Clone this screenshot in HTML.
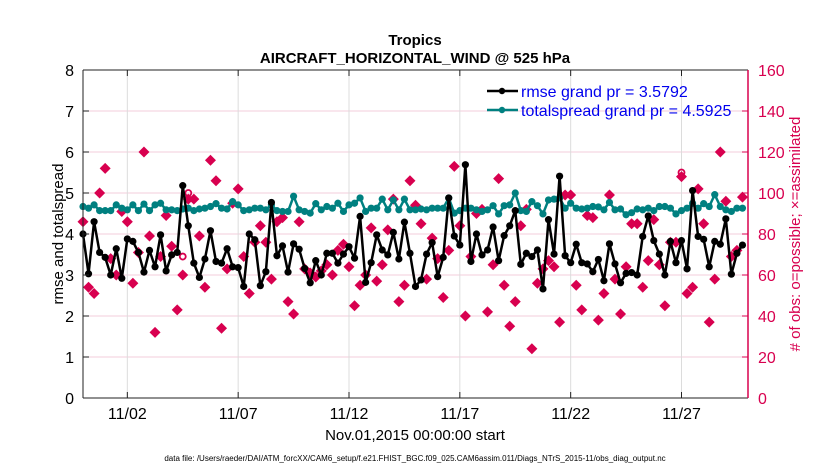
<!DOCTYPE html>
<html><head><meta charset="utf-8"><style>
body{margin:0;background:#fff;}
svg{display:block;font-family:"Liberation Sans",Arial,sans-serif;}
</style></head><body>
<svg id="chart" width="830" height="470" viewBox="0 0 830 470">
<g id="grid"></g>
<g id="marks"></g>
<g id="axes"></g>
<text x="415" y="45" text-anchor="middle" font-size="15" font-weight="bold">Tropics</text>
<text x="415" y="63" text-anchor="middle" font-size="15" font-weight="bold">AIRCRAFT_HORIZONTAL_WIND @ 525 hPa</text>
<text transform="translate(63,234) rotate(-90)" text-anchor="middle" font-size="15">rmse and totalspread</text>
<text transform="translate(800,234) rotate(-90)" text-anchor="middle" font-size="15" fill="#d8004f"># of obs: o=possible; ×=assimilated</text>
<text x="415" y="440" text-anchor="middle" font-size="15">Nov.01,2015 00:00:00 start</text>
<text x="415" y="461" text-anchor="middle" font-size="8">data file: /Users/raeder/DAI/ATM_forcXX/CAM6_setup/f.e21.FHIST_BGC.f09_025.CAM6assim.011/Diags_NTrS_2015-11/obs_diag_output.nc</text>
<g>
<line x1="487" y1="91" x2="518" y2="91" stroke="#000" stroke-width="2.5"/>
<circle cx="502" cy="91" r="3.2" fill="#000"/>
<text x="521" y="97" font-size="16" fill="#0000ee">rmse grand pr = 3.5792</text>
<line x1="487" y1="110" x2="518" y2="110" stroke="#008080" stroke-width="2.5"/>
<circle cx="502" cy="110" r="3.2" fill="#008080"/>
<text x="521" y="116" font-size="16" fill="#0000ee">totalspread grand pr = 4.5925</text>
</g>
</svg>
<script>
const rmse=[4.0,3.03,4.3,3.55,3.43,3.0,3.64,2.92,3.88,3.82,3.55,3.07,3.6,3.2,3.98,3.1,3.49,3.55,5.18,4.2,3.29,2.94,3.39,4.08,3.33,3.29,3.64,3.2,3.18,2.72,
4.0,3.86,2.74,3.08,4.77,3.47,3.71,3.07,3.76,3.63,3.16,2.81,3.35,3.0,3.53,3.53,3.29,3.51,3.69,3.41,4.43,2.82,3.3,3.98,3.61,3.49,4.04,3.39,4.29,3.53,
2.72,2.88,3.51,3.79,2.96,3.43,4.88,3.95,3.73,5.69,3.33,4.0,3.49,3.61,4.17,3.35,3.96,4.2,4.57,3.26,3.53,3.45,3.61,2.66,4.35,3.51,5.41,3.47,3.3,3.75,
3.3,3.27,3.08,3.38,2.86,3.76,3.27,2.81,3.04,3.06,3.0,3.94,4.44,3.84,3.51,3.0,3.82,3.3,3.84,3.15,5.06,3.94,3.87,3.2,3.82,3.75,4.37,3.02,3.53,3.73];
const spread=[4.67,4.63,4.71,4.57,4.57,4.57,4.71,4.63,4.59,4.71,4.57,4.73,4.57,4.71,4.75,4.59,4.59,4.57,4.61,4.63,4.57,4.61,4.63,4.67,4.74,4.63,4.61,4.79,4.71,4.57,
4.59,4.63,4.63,4.59,4.71,4.57,4.55,4.55,4.92,4.59,4.55,4.51,4.74,4.59,4.67,4.63,4.75,4.55,4.71,4.75,4.88,4.55,4.63,4.63,4.85,4.59,4.83,4.59,4.85,4.59,
4.59,4.61,4.59,4.63,4.63,4.63,4.88,4.51,4.57,4.63,4.63,4.59,4.55,4.59,4.69,4.49,4.69,4.71,5.0,4.57,4.55,4.79,4.69,4.49,4.83,4.85,4.88,4.63,4.75,4.63,
4.61,4.63,4.67,4.66,4.59,4.77,4.59,4.61,4.47,4.52,4.61,4.59,4.63,4.57,4.67,4.67,4.63,4.49,4.57,4.63,4.75,4.63,4.74,4.67,4.96,4.67,4.59,4.55,4.63,4.63];
const nAssim=[86,54,51,100,112,68,60,91,86,56,71,120,79,32,69,89,74,43,60,97,97,79,54,116,106,34,63,95,102,69,
51,76,84,76,58,86,88,47,41,86,63,61,59,62,65,60,72,75,64,45,55,60,83,57,65,82,97,47,55,106,
94,85,58,78,68,49,72,113,84,40,69,90,92,42,65,107,55,35,47,84,92,24,56,63,67,64,37,99,99,55,
43,89,88,38,51,99,58,41,64,85,85,54,67,87,65,45,76,76,108,51,54,102,85,37,58,120,96,69,72,98];
const nPossExtra=[[18,69],[19,100],[108,110]];
const yTicks=[0,1,2,3,4,5,6,7,8];
const y2Ticks=[0,20,40,60,80,100,120,140,160];
const xTickDays=[2,7,12,17,22,27];
const xTickLabels=["11/02","11/07","11/12","11/17","11/22","11/27"];

const NS="http://www.w3.org/2000/svg";
const L=83,R=748,T=70,B=398;
const xs=d=>L+(R-L)*d/30;           // d = days since Nov 1
const ys=v=>B-(B-T)*v/8;
const ys2=v=>B-(B-T)*v/160;
const red="#d8004f";
function mk(tag,attrs,parent){const e=document.createElementNS(NS,tag);for(const k in attrs)e.setAttribute(k,attrs[k]);parent.appendChild(e);return e;}
const grid=document.getElementById('grid'),marks=document.getElementById('marks'),axes=document.getElementById('axes');

yTicks.forEach(v=>{
  const g=mk('line',{x1:L,x2:R,y1:ys(v),y2:ys(v),stroke:'#f3cddb','stroke-width':1},grid);
  
  
  const t=mk('text',{x:L-9,y:ys(v)+6,'text-anchor':'end','font-size':16},axes);t.textContent=v;
  
  
  mk('line',{x1:L,x2:L+6,y1:ys(v),y2:ys(v),stroke:'#222'},axes);
});
y2Ticks.forEach(v=>{
  const t=mk('text',{x:R+10,y:ys2(v)+6,'font-size':16,fill:red},axes);t.textContent=v;
  
  
  mk('line',{x1:R-6,x2:R,y1:ys2(v),y2:ys2(v),stroke:red},axes);
});
xTickDays.forEach((d,i)=>{
  const g=mk('line',{x1:xs(d),x2:xs(d),y1:T,y2:B,stroke:'#dcdcdc'},grid);
  
  
  mk('line',{x1:xs(d),x2:xs(d),y1:B,y2:B-6,stroke:'#222'},axes);
  mk('line',{x1:xs(d),x2:xs(d),y1:T,y2:T+6,stroke:'#222'},axes);
  const t=mk('text',{x:xs(d),y:B+21,'text-anchor':'middle','font-size':16},axes);t.textContent=xTickLabels[i];
  
  
});
mk('line',{x1:L,x2:L,y1:T,y2:B,stroke:'#222'},axes);
mk('line',{x1:L,x2:R,y1:B,y2:B,stroke:'#222'},axes);
mk('line',{x1:L,x2:R,y1:T,y2:T,stroke:'#222'},axes);
mk('line',{x1:R,x2:R,y1:T,y2:B,stroke:red,'stroke-width':1.5},axes);

const dayOf=i=>i*0.25;
// possible circles
nPossExtra.forEach(p=>{
  const c=mk('circle',{cx:xs(dayOf(p[0])),cy:ys2(p[1]),r:3,fill:'none',stroke:red,'stroke-width':1.8},marks);
  
  
});
// assimilated diamonds
nAssim.forEach((v,i)=>{
  const x=xs(dayOf(i)),y=ys2(v),s=5.5;
  const p=mk('polygon',{points:`${x},${y-s} ${x+s},${y} ${x},${y+s} ${x-s},${y}`,fill:red},marks);
  
  
});
function series(arr,color,name){
  const pl=mk('polyline',{points:arr.map((v,i)=>xs(dayOf(i))+','+ys(v)).join(' '),fill:'none',stroke:color,'stroke-width':2.5,'stroke-linejoin':'round'},marks);
  
  
  arr.forEach((v,i)=>{
    const c=mk('circle',{cx:xs(dayOf(i)),cy:ys(v),r:3.6,fill:color},marks);
    
    
  });
}
series(spread,'#008080','totalspread');
series(rmse,'#000000','rmse');
</script>
</body></html>
